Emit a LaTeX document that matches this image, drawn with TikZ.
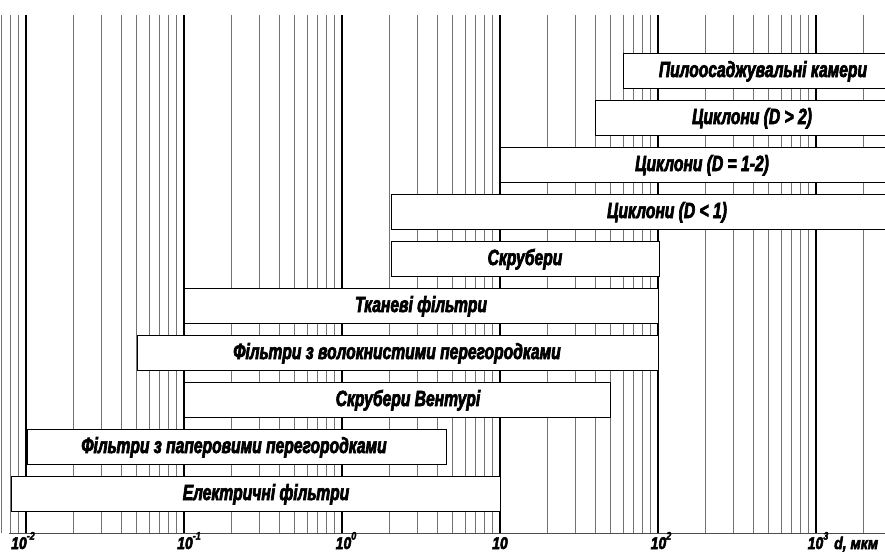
\documentclass[tikz,border=0pt]{standalone}
\usepackage{fontspec}
\setmainfont{Liberation Sans}[FakeStretch=0.82, BoldItalicFeatures={FakeBold=3}]
\newfontfamily\narrowfont{Liberation Sans}[FakeStretch=0.71, BoldItalicFeatures={FakeBold=3}]
\begin{document}
\begin{tikzpicture}[x=1pt,y=-1pt,
  minor/.style={draw=black!55, line width=0.6pt},
  major/.style={draw=black, line width=1.8pt},
  bar/.style={draw=black, fill=white, line width=1.2pt, rectangle, inner sep=0pt,
    minimum height=35pt, anchor=north west},
  barlabel/.style={font=\narrowfont\fontsize{22}{22}\selectfont\bfseries\itshape, inner sep=0pt, anchor=base},
  ticklabel/.style={font=\fontsize{17}{17}\selectfont\bfseries\itshape, inner sep=0pt, anchor=base}]
\useasboundingbox (0,0) rectangle (885,552);
\clip (0,0) rectangle (885,552);
\fill[white] (0,0) rectangle (885,552);
% logarithmic grid: one decade = 158pt, 10^-2 at x = 26
\foreach \d in {-3,...,3}{
  \foreach \m in {2,...,9}{
    \pgfmathsetmacro\gx{26+158*(\d+2+log10(\m))}
    \draw[minor] (\gx,15) -- (\gx,533);
  }
}
\foreach \d in {-2,...,3}{
  \draw[major] ({26+158*(\d+2)},15) -- ({26+158*(\d+2)},533);
}
\draw[black!70, line width=0.8pt] (9,533) -- (885,533);
% axis labels
\newcommand{\tenpow}[1]{10\raisebox{0.55em}{\fontsize{11}{11}\selectfont #1}}
\node[ticklabel] (tm2) at (23,549) {\tenpow{-2}};
\node[ticklabel] (tm1) at (189,549) {\tenpow{-1}};
\node[ticklabel] (t0)  at (346,549) {\tenpow{0}};
\node[ticklabel] (t1)  at (500,549) {10};
\node[ticklabel] (t2)  at (661,549) {\tenpow{2}};
\node[ticklabel] (t3)  at (818,549) {\tenpow{3}};
\node[ticklabel, anchor=base west] (unit) at (834,549) {d, мкм};
% ranges of the dust collectors
\node[bar, minimum width=277pt] (b1)  at (623,53)  {};
\node[bar, minimum width=305pt] (b2)  at (595,100) {};
\node[bar, minimum width=400pt] (b3)  at (500,147) {};
\node[bar, minimum width=509pt] (b4)  at (391,194) {};
\node[bar, minimum width=268pt] (b5)  at (391,241) {};
\node[bar, minimum width=474pt] (b6)  at (184,288) {};
\node[bar, minimum width=521pt] (b7)  at (137,335) {};
\node[bar, minimum width=426pt] (b8)  at (184,382) {};
\node[bar, minimum width=419pt] (b9)  at (27,429)  {};
\node[bar, minimum width=489pt] (b10) at (11,476)  {};
\node[barlabel] (l1)  at (763,77)  {Пилоосаджувальні камери};
\node[barlabel] (l2)  at (752,124) {Циклони (D > 2)};
\node[barlabel] (l3)  at (702,171) {Циклони (D = 1-2)};
\node[barlabel] (l4)  at (667,218) {Циклони (D < 1)};
\node[barlabel] (l5)  at (525,265) {Скрубери};
\node[barlabel] (l6)  at (421,312) {Тканеві фільтри};
\node[barlabel] (l7)  at (397,359) {Фільтри з волокнистими перегородками};
\node[barlabel] (l8)  at (408,406) {Скрубери Вентурі};
\node[barlabel] (l9)  at (234,453) {Фільтри з паперовими перегородками};
\node[barlabel] (l10) at (266,500) {Електричні фільтри};
\end{tikzpicture}
\end{document}
